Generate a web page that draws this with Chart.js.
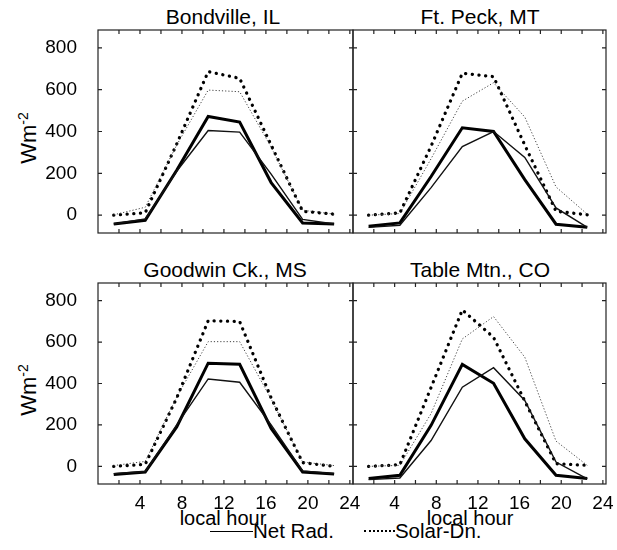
<!DOCTYPE html>
<html>
<head>
<meta charset="utf-8">
<script src="https://cdn.jsdelivr.net/npm/chart.js@4.4.1/dist/chart.umd.min.js"></script>
<style>
  body { margin: 0; background: #fff; width: 617px; height: 550px; position: relative; overflow: hidden;
         font-family: "Liberation Sans", Arial, sans-serif; color: #000; }
  .wrap { position: absolute; }
  .t { position: absolute; font-size: 21px; white-space: nowrap; transform: translate(-50%, -50%); line-height: 1; }
  .xl { font-size: 20px; }
  .yl { position: absolute; font-size: 22px; white-space: nowrap; transform: translate(-50%, -50%) rotate(-90deg); line-height: 1; }
  .yl sup { font-size: 14px; }
  .leg { position: absolute; left: 210px; top: 521px; font-size: 20.5px; line-height: 20px; white-space: nowrap; display: flex; align-items: center; }
  .leg .s { display: inline-block; width: 43px; border-top: 1.5px solid #000; }
  .leg .d { display: inline-block; width: 31px; border-top: 2px dotted #000; margin-left: 30px; }
</style>
</head>
<body>
<div class="t" style="left:223px;top:16px">Bondville, IL</div>
<div class="t" style="left:480px;top:16px">Ft. Peck, MT</div>
<div class="t" style="left:225px;top:269px">Goodwin Ck., MS</div>
<div class="t" style="left:480px;top:269px">Table Mtn., CO</div>
<div class="yl" style="left:28px;top:138px">Wm<sup>-2</sup></div>
<div class="yl" style="left:28px;top:390px">Wm<sup>-2</sup></div>
<div class="t xl" style="left:223px;top:518px">local hour</div>
<div class="t xl" style="left:470px;top:518px">local hour</div>
<div class="leg"><span class="s"></span>Net Rad.<span class="d"></span>Solar-Dn.</div>

<div class="wrap" id="w0"><canvas id="c0"></canvas></div>
<div class="wrap" id="w1"><canvas id="c1"></canvas></div>
<div class="wrap" id="w2"><canvas id="c2"></canvas></div>
<div class="wrap" id="w3"><canvas id="c3"></canvas></div>

<script>
// jam lokal (rata-rata tiap 3 jam)
const HOURS = [1.5, 4.5, 7.5, 10.5, 13.5, 16.5, 19.5, 22.5];
const X_TICKS = [4, 8, 12, 16, 20, 24];
const Y_TICKS = [0, 200, 400, 600, 800];

const BOND_NET_A = [-42, -24, 215, 472, 445, 156, -37, -42];
const BOND_NET_B = [-42, -18, 210, 405, 397, 196, -20, -42];
const BOND_SOL_A = [0, 12, 340, 686, 654, 335, 19, 5];
const BOND_SOL_B = [2, 38, 335, 598, 590, 325, 24, 5];

const PECK_NET_A = [-53, -37, 185, 418, 400, 170, -43, -58];
const PECK_NET_B = [-58, -48, 132, 328, 400, 276, 35, -58];
const PECK_SOL_A = [0, 11, 330, 678, 662, 335, 19, 2];
const PECK_SOL_B = [0, 8, 270, 545, 633, 469, 135, 5];

const GOOD_NET_A = [-39, -27, 190, 498, 493, 183, -27, -37];
const GOOD_NET_B = [-35, -25, 200, 422, 406, 200, -22, -35];
const GOOD_SOL_A = [0, 10, 330, 703, 699, 330, 18, 0];
const GOOD_SOL_B = [4, 24, 335, 602, 602, 325, 21, 4];

const TABLE_NET_A = [-59, -43, 198, 492, 401, 133, -43, -59];
const TABLE_NET_B = [-64, -56, 125, 382, 476, 318, 21, -60];
const TABLE_SOL_A = [0, 8, 381, 755, 623, 315, 13, 5];
const TABLE_SOL_B = [0, 5, 255, 615, 723, 527, 122, 5];

const X_MIN = 0, X_MAX = 24.3, Y_MIN = -85, Y_MAX = 885;

// kotak plot: [kiri, atas, kanan, bawah]
const PANELS = [
  { id: 0, box: [98, 30, 353, 233], showX: false, showY: true,  data: [BOND_NET_A, BOND_NET_B, BOND_SOL_A, BOND_SOL_B] },
  { id: 1, box: [353, 30, 606, 233], showX: false, showY: false, data: [PECK_NET_A, PECK_NET_B, PECK_SOL_A, PECK_SOL_B] },
  { id: 2, box: [98, 283, 353, 484], showX: true,  showY: true,  data: [GOOD_NET_A, GOOD_NET_B, GOOD_SOL_A, GOOD_SOL_B] },
  { id: 3, box: [353, 283, 606, 484], showX: true,  showY: false, data: [TABLE_NET_A, TABLE_NET_B, TABLE_SOL_A, TABLE_SOL_B] }
];

// ruang kosong di sekitar kotak supaya padding label Chart.js tidak menggeser area plot
const PAD = 30, YW = 60, XH = 30;

Chart.defaults.font.family = "'Liberation Sans', Arial, sans-serif";
Chart.defaults.font.size = 19;
Chart.defaults.color = "#000";

const boxTicks = {
  id: "boxTicks",
  afterDraw(chart) {
    const { ctx, chartArea: a, scales: { x, y } } = chart;
    ctx.save();
    ctx.strokeStyle = "#222";
    ctx.lineWidth = 1.2;
    ctx.strokeRect(a.left, a.top, a.right - a.left, a.bottom - a.top);
    ctx.beginPath();
    for (let h = 2; h <= 24; h += 2) {
      const px = x.getPixelForValue(h);
      ctx.moveTo(px, a.bottom); ctx.lineTo(px, a.bottom - 4);
      ctx.moveTo(px, a.top); ctx.lineTo(px, a.top + 4);
    }
    Y_TICKS.forEach((v) => {
      const py = y.getPixelForValue(v);
      ctx.moveTo(a.left, py); ctx.lineTo(a.left + 4, py);
      ctx.moveTo(a.right, py); ctx.lineTo(a.right - 4, py);
    });
    ctx.stroke();
    ctx.restore();
  }
};

function pts(vals) { return HOURS.map((h, i) => ({ x: h, y: vals[i] })); }

PANELS.forEach((p) => {
  const [l, t, r, b] = p.box;
  const padL = p.showY ? YW : PAD, padB = p.showX ? XH : PAD;
  const w = document.getElementById("w" + p.id);
  w.style.left = (l - padL) + "px";
  w.style.top = (t - PAD) + "px";
  w.style.width = (r - l + padL + PAD) + "px";
  w.style.height = (b - t + PAD + padB) + "px";

  const [netA, netB, solA, solB] = p.data;
  new Chart(document.getElementById("c" + p.id), {
    type: "line",
    data: {
      datasets: [
        { data: pts(solB), borderColor: "#444", borderWidth: 1, borderDash: [1.2, 2] },
        { data: pts(netB), borderColor: "#111", borderWidth: 1.4 },
        { data: pts(solA), borderColor: "#000", borderWidth: 3.3, borderDash: [0.1, 6.6], borderCapStyle: "round" },
        { data: pts(netA), borderColor: "#000", borderWidth: 3 }
      ]
    },
    options: {
      responsive: true, maintainAspectRatio: false, animation: false,
      layout: { padding: { top: PAD, right: PAD, left: p.showY ? 0 : PAD, bottom: p.showX ? 0 : PAD } },
      elements: { point: { radius: 0 }, line: { tension: 0, fill: false } },
      plugins: { legend: { display: false }, tooltip: { enabled: false } },
      scales: {
        x: {
          type: "linear", min: X_MIN, max: X_MAX, display: p.showX,
          grid: { display: false }, border: { display: false },
          ticks: { padding: 0, maxRotation: 0, autoSkip: false },
          afterBuildTicks: (s) => { s.ticks = X_TICKS.map((v) => ({ value: v })); },
          afterFit: (s) => { if (p.showX) s.height = XH; }
        },
        y: {
          min: Y_MIN, max: Y_MAX, display: p.showY,
          grid: { display: false }, border: { display: false },
          ticks: { padding: 13, autoSkip: false },
          afterBuildTicks: (s) => { s.ticks = Y_TICKS.map((v) => ({ value: v })); },
          afterFit: (s) => { if (p.showY) s.width = YW; }
        }
      }
    },
    plugins: [boxTicks]
  });
});
</script>
</body>
</html>
